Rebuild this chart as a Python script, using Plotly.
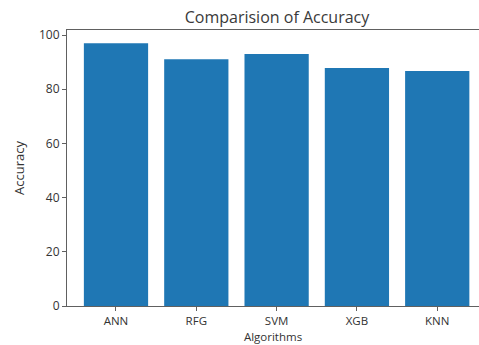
import plotly.graph_objects as go

algorithms = ["ANN", "RFG", "SVM", "XGB", "KNN"]
accuracy = [97.0, 91.1, 93.0, 87.8, 86.7]
y_ticks = [0, 20, 40, 60, 80, 100]

font_family = "Open Sans, DejaVu Sans, sans-serif"
axis_color = "#606060"

fig = go.Figure(
    go.Bar(
        x=list(range(len(algorithms))),
        y=accuracy,
        width=0.8,
        marker=dict(color="#1f77b4", line=dict(width=0)),
        hoverinfo="skip",
    )
)

fig.update_layout(
    width=479,
    height=345,
    autosize=False,
    margin=dict(l=67, r=0, t=30, b=39, autoexpand=False),
    paper_bgcolor="white",
    plot_bgcolor="white",
    font=dict(family=font_family, color="#333333", size=11),
    showlegend=False,
    title=dict(
        text="Comparision of Accuracy",
        x=277 / 479,
        xanchor="center",
        y=1 - 17 / 345,
        yanchor="middle",
        font=dict(size=16, color="#3a3a3a", family=font_family),
    ),
)

fig.update_xaxes(
    range=[-0.61, 4.52],
    tickmode="array",
    tickvals=list(range(len(algorithms))),
    ticktext=algorithms,
    ticks="outside",
    ticklen=4,
    tickcolor=axis_color,
    showline=True,
    linecolor=axis_color,
    linewidth=1,
    mirror=True,
    showgrid=False,
    zeroline=False,
    automargin=False,
    tickfont=dict(size=11.5),
    title=dict(text="Algorithms", standoff=6, font=dict(size=11.5)),
)

fig.update_yaxes(
    range=[0, 101.85],
    tickmode="array",
    tickvals=y_ticks,
    ticks="outside",
    ticklen=4,
    tickcolor=axis_color,
    showline=True,
    linecolor=axis_color,
    linewidth=1,
    mirror=False,
    showgrid=False,
    zeroline=False,
    automargin=False,
    tickfont=dict(size=12),
    title=dict(text="Accuracy", standoff=11, font=dict(size=13)),
)

fig.write_html(
    "out.html",
    config={"displayModeBar": False, "staticPlot": True},
    post_script="document.body.style.margin='0';document.body.style.overflow='hidden';",
)
